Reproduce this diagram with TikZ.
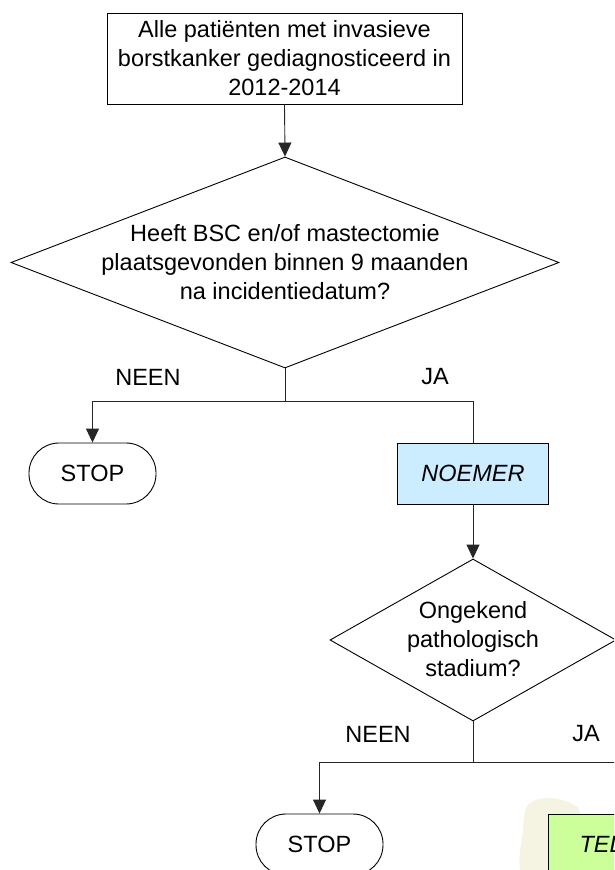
\documentclass[tikz,border=0pt]{standalone}
\usepackage{fontspec}
\setmainfont{Liberation Sans}
\usetikzlibrary{shapes.geometric,arrows.meta}
\definecolor{noemerblue}{HTML}{CCECFF}
\definecolor{tellergreen}{HTML}{CCFF99}
\definecolor{blobbeige}{HTML}{F5F3E1}
\begin{document}
\begin{tikzpicture}[x=1pt,y=-1pt,
  every node/.style={font=\fontsize{23.5}{29}\selectfont},
  procbox/.style={draw, line width=0.9pt, rectangle, inner sep=0pt, align=center},
  diabox/.style={draw, line width=0.9pt, diamond, inner sep=0pt, aspect=1},
  termbox/.style={draw, line width=0.9pt, rectangle, rounded corners=30pt, minimum width=127pt, minimum height=61pt, inner sep=0pt},
  txt/.style={align=center, inner sep=0pt},
  conn/.style={line width=0.9pt, draw=black!85},
  arr/.style={conn, -{Triangle[length=14pt,width=13pt]}}]
\useasboundingbox (0,0) rectangle (614,870);
\clip (0,0) rectangle (614,870);
\fill[white] (0,0) rectangle (614,870);
% top box
\node[procbox, minimum width=355pt, minimum height=91pt] (top) at (284.5,58.5) {Alle patiënten met invasieve\\borstkanker gediagnosticeerd in\\2012-2014};
% diamond 1
\node[diabox, minimum width=548pt, minimum height=211pt] (d1) at (285,262.5) {};
\node[txt] (d1t) at (285,262.5) {Heeft BSC en/of mastectomie\\plaatsgevonden binnen 9 maanden\\na incidentiedatum?};
\node[txt] (n1) at (148,377) {NEEN};
\node[txt] (j1l) at (435,377) {JA};
\coordinate (j1) at (285,401);
% stop 1 and noemer
\node[termbox] (stop1) at (92.5,473.5) {STOP};
\node[procbox, fill=noemerblue, minimum width=151pt, minimum height=61pt, font=\fontsize{23.5}{29}\selectfont\itshape] (noemer) at (473,473.5) {NOEMER};
% diamond 2
\node[diabox, minimum width=286pt, minimum height=162pt] (d2) at (473,640) {};
\node[txt] (d2t) at (473,639) {Ongekend\\pathologisch\\stadium?};
\node[txt] (n2) at (378,734) {NEEN};
\node[txt] (j2l) at (586,734) {JA};
\coordinate (j2) at (473,762);
\coordinate (e2) at (620,762);
% bottom row
\node[termbox] (stop2) at (319.5,844.5) {STOP};
\fill[blobbeige] plot[smooth cycle] coordinates {(523,875) (523,830) (526,808) (536,800) (548,798) (562,800) (574,805) (580,815) (580,875)};
\node[procbox, fill=tellergreen, minimum width=152pt, minimum height=61pt, font=\fontsize{23.5}{29}\selectfont\itshape] (teller) at (624,844.5) {TELLER};
% connectors
\draw[arr] (top.south) -- (d1.north);
\draw[conn] (d1.south) -- (j1);
\draw[arr] (j1) -| (stop1.north);
\draw[conn] (j1) -| (noemer.north);
\draw[arr] (noemer.south) -- (d2.north);
\draw[conn] (d2.south) -- (j2);
\draw[arr] (j2) -| (stop2.north);
\draw[conn] (j2) -- (e2);
\end{tikzpicture}
\end{document}
